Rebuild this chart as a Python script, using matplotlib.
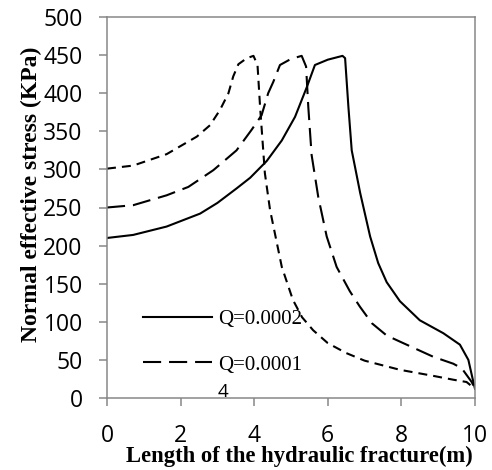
import numpy as np
import matplotlib
matplotlib.use("Agg")
import matplotlib.pyplot as plt

# readings from the curves (x in m, y in KPa)
q2_x = [0, 0.71, 1.62, 2.53, 3.0, 3.52, 3.89, 4.34, 4.75, 5.11, 5.43, 5.65, 6.0, 6.4, 6.47,
        6.56, 6.65, 6.88, 7.15, 7.37, 7.6, 7.96, 8.5, 9.14, 9.59, 9.82, 9.96, 10]
q2_y = [210, 214, 225, 242, 256, 275, 289, 311, 338, 369, 408, 437, 444, 449, 446,
        382, 325, 269, 212, 177, 152, 127, 102, 85, 70, 50, 20, 12]

q1_x = [0, 0.71, 1.62, 2.21, 2.89, 3.52, 3.93, 4.2, 4.38, 4.52, 4.70, 5.0, 5.29, 5.41, 5.47,
        5.56, 5.74, 5.97, 6.24, 6.6, 6.87, 7.2, 7.6, 7.96, 8.87, 9.41, 9.64, 9.91, 10]
q1_y = [250, 253, 266, 277, 299, 325, 352, 371, 400, 415, 437, 445, 449, 435, 382,
        319, 264, 212, 172, 140, 120, 98, 82, 74, 54, 45, 39, 21, 12]

q3_x = [0, 0.71, 1.62, 2.44, 2.80, 3.07, 3.30, 3.43, 3.57, 3.8, 3.98, 4.09, 4.16,
        4.29, 4.43, 4.75, 5.05, 5.3, 5.6, 6.0, 6.5, 7.0, 7.96, 8.87, 9.41, 9.77, 10]
q3_y = [301, 305, 320, 343, 358, 378, 400, 422, 438, 446, 449, 437, 382,
        295, 247, 172, 129, 106, 89, 72, 59, 49, 37, 29, 24, 21, 12]

legend_labels = ["Q=0.0002", "Q=0.0001"]
x_ticks = [0, 2, 4, 6, 8, 10]
y_ticks = [0, 50, 100, 150, 200, 250, 300, 350, 400, 450, 500]

grey = "#878787"

fig = plt.figure(figsize=(4.92, 4.70), dpi=100)
ax = fig.add_axes([107/492, 1-398/470, 368/492, 381/470])

l1, = ax.plot(q2_x, q2_y, color="black", lw=1.5, solid_joinstyle="round")
l2, = ax.plot(q1_x, q1_y, color="black", lw=1.5, dashes=(8.7, 3.8))
ax.plot(q3_x, q3_y, color="black", lw=1.5, dashes=(4.3, 2.9))

ax.set_xlim(0, 10)
ax.set_ylim(0, 500)
ax.set_xticks(x_ticks)
ax.set_yticks(y_ticks)
for s in ax.spines.values():
    s.set_color(grey)
    s.set_linewidth(1.1)
ax.tick_params(axis="both", direction="out", length=5.5, width=1.1, color=grey,
               labelsize=16.5, labelcolor="black")
ax.tick_params(axis="y", pad=12)
ax.tick_params(axis="x", pad=13)
for t in ax.get_xticklabels() + ax.get_yticklabels():
    t.set_fontfamily("Open Sans")

ax.set_xlabel("Length of the hydraulic fracture(m)", fontfamily="Liberation Serif",
              fontweight="bold", fontsize=16.3, va="center")
ax.xaxis.set_label_coords(0.524, -0.152)
ax.set_ylabel("Normal effective stress (KPa)", fontfamily="Liberation Serif",
              fontweight="bold", fontsize=17, va="center")
ax.yaxis.set_label_coords(-0.205, 0.535)

leg = ax.legend([l1, l2], legend_labels, loc="upper left", bbox_to_anchor=(0.098, 0.232),
                frameon=False, borderpad=0, borderaxespad=0, handlelength=3.3,
                handletextpad=0.3, labelspacing=1.24,
                prop={"family": "Liberation Serif", "size": 15})
ax.text(0.315, 0.016, "4", transform=ax.transAxes, ha="center", va="center",
        fontfamily="Open Sans", fontsize=13.5)

fig.savefig("out.png", dpi=100)
